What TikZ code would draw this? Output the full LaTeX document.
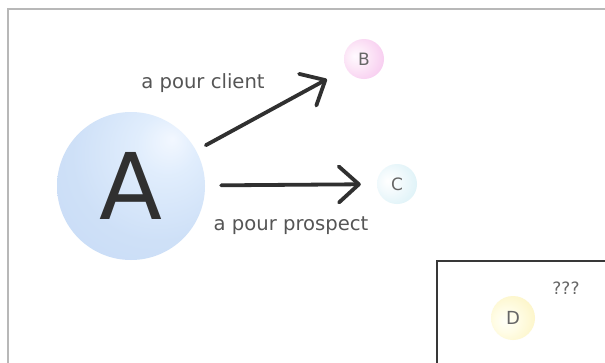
\documentclass[tikz,border=0pt]{standalone}
\usepackage{fontspec}
\setmainfont{DejaVu Sans}
\usetikzlibrary{arrows.meta}
\pgfdeclareradialshading{ballA}{\pgfpoint{14bp}{16bp}}{rgb(0bp)=(0.95,0.97,1); rgb(10bp)=(0.88,0.93,0.99); rgb(28bp)=(0.81,0.88,0.97); rgb(52bp)=(0.77,0.85,0.96); rgb(75bp)=(0.72,0.81,0.94)}
\pgfdeclareradialshading{glowB}{\pgfpoint{-12bp}{4bp}}{rgb(0bp)=(1,0.98,1); rgb(14bp)=(0.99,0.91,0.97); rgb(32bp)=(0.97,0.80,0.94); rgb(44bp)=(0.98,0.88,0.96); rgb(56bp)=(1,1,1)}
\pgfdeclareradialshading{glowC}{\pgfpoint{-12bp}{4bp}}{rgb(0bp)=(1,1,1); rgb(14bp)=(0.95,0.98,0.99); rgb(32bp)=(0.87,0.95,0.97); rgb(44bp)=(0.93,0.97,0.98); rgb(56bp)=(1,1,1)}
\pgfdeclareradialshading{glowD}{\pgfpoint{-10bp}{-4bp}}{rgb(0bp)=(1,1,0.97); rgb(14bp)=(1,0.99,0.90); rgb(32bp)=(0.99,0.96,0.78); rgb(44bp)=(0.99,0.97,0.88); rgb(56bp)=(1,1,1)}
\definecolor{labelgray}{HTML}{555555}
\definecolor{letgray}{HTML}{666666}
\definecolor{inkdark}{HTML}{303030}
\tikzset{
  frameline/.style={draw=black!28, line width=1.4pt},
  boxline/.style={draw=black!78, line width=2pt},
  bigball/.style={circle, inner sep=0pt, minimum size=148pt, shading=ballA, text=inkdark, font=\fontsize{92}{92}\selectfont},
  glow/.style={circle, inner sep=0pt, minimum size=#1, text=letgray, font=\fontsize{17}{17}\selectfont},
  lbl/.style={text=labelgray, font=\fontsize{19.6}{19.6}\selectfont, inner sep=0pt},
  conn/.style={draw=inkdark, line width=3.8pt, line cap=round,
    -{Straight Barb[length=20pt, width=36pt, line width=3.8pt, round]}}
}
\begin{document}
\begin{tikzpicture}[x=1pt,y=-1pt]
\useasboundingbox (0,0) rectangle (605,362);
\clip (0,0) rectangle (605,362);
\fill[white] (0,0) rectangle (605,362);
\draw[frameline] (8,9) rectangle (660,420);
\draw[boxline] (437,261) rectangle (660,420);
\node[bigball] (A) at (131,186) {A};
\node[glow=40pt, shading=glowB] (B) at (364,59) {B};
\node[glow=40pt, shading=glowC] (C) at (397,184) {C};
\node[glow=44pt, shading=glowD, font=\fontsize{18}{18}\selectfont] (D) at (513,318) {D};
\node[text=letgray, font=\fontsize{17}{17}\selectfont] (Q) at (566,288) {???};
\draw[conn, shorten <=11pt, shorten >=22pt] (A) -- (B);
\draw[conn, shorten <=16pt, shorten >=16pt] (A) -- (C);
\node[lbl] (l1) at (203,83) {a pour client};
\node[lbl] (l2) at (291,226) {a pour prospect};
\end{tikzpicture}
\end{document}
